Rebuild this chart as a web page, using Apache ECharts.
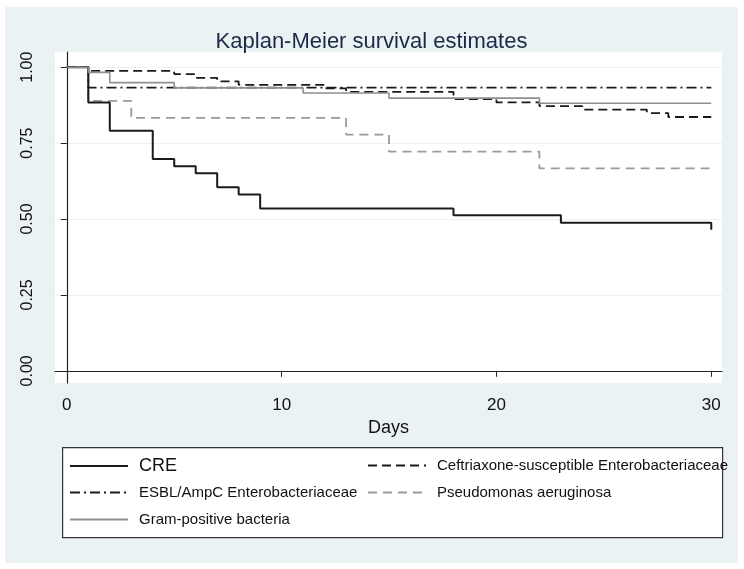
<!DOCTYPE html>
<html>
<head>
<meta charset="utf-8">
<script src="https://cdn.jsdelivr.net/npm/echarts@6/dist/echarts.min.js"></script>
<style>
    body { margin: 0; background: #ffffff; }
    #chart { position: absolute; left: 5px; top: 7px; width: 733px; height: 556px; }
</style>
</head>
<body>
<div id="chart"></div>
<script>
// Kaplan-Meier step data: [day, survival]
const creTimes = [0, 1, 2, 4, 5, 6, 7, 8, 9, 18, 23, 30];
const creSurv = [1, 0.884, 0.791, 0.698, 0.674, 0.651, 0.605, 0.581, 0.535, 0.512, 0.488, 0.465];

const ceftTimes = [0, 1, 5, 6, 7, 8, 12, 13, 18, 20, 22, 24, 27, 28, 30];
const ceftSurv = [1, 0.988, 0.977, 0.965, 0.953, 0.942, 0.93, 0.919, 0.895, 0.884, 0.872, 0.86, 0.849, 0.836, 0.836];

const esblTimes = [0, 1, 30];
const esblSurv = [1, 0.933, 0.933];

const pseuTimes = [0, 1, 3, 13, 15, 22, 30];
const pseuSurv = [1, 0.889, 0.833, 0.778, 0.722, 0.667, 0.667];

const gramTimes = [0, 1, 2, 5, 11, 15, 22, 30];
const gramSurv = [1, 0.983, 0.949, 0.932, 0.915, 0.898, 0.881, 0.881];

const xTicks = [0, 10, 20, 30];
const yTicks = [0, 0.25, 0.5, 0.75, 1];

const names = [
    "CRE",
    "Ceftriaxone-susceptible Enterobacteriaceae",
    "ESBL/AmpC Enterobacteriaceae",
    "Pseudomonas aeruginosa",
    "Gram-positive bacteria",
];

const FONT = "'Liberation Sans', Arial, sans-serif";
const BG = "#eaf2f3";

const zip = (t, s) => t.map((x, i) => [x, s[i]]);

const kmSeries = (name, t, s, color, width, type) => ({
    name: name,
    type: "line",
    step: "end",
    symbol: "none",
    data: zip(t, s),
    lineStyle: { color: color, width: width, type: type },
    itemStyle: { color: color },
    emphasis: { disabled: true },
});

const legendAt = (name, left, top, size) => ({
    data: [name],
    left: left,
    top: top,
    padding: 0,
    itemWidth: 58,
    itemHeight: 12,
    selectedMode: false,
    itemStyle: { opacity: 0 },
    textStyle: {
        fontFamily: FONT,
        fontSize: size,
        color: "#111111",
        padding: [0, 0, 0, 6],
    },
});

const chart = echarts.init(document.getElementById("chart"));
chart.setOption({
    animation: false,
    backgroundColor: BG,
    title: {
        text: "Kaplan-Meier survival estimates",
        left: "center",
        top: 19,
        textStyle: {
            fontFamily: FONT,
            fontSize: 22,
            fontWeight: "normal",
            color: "#1c2a48",
        },
    },
    grid: {
        left: 50,
        right: 16,
        top: 45,
        bottom: 180,
        show: true,
        backgroundColor: "#ffffff",
        borderWidth: 0,
    },
    xAxis: {
        type: "value",
        min: -0.55,
        max: 30.5,
        name: "Days",
        nameLocation: "middle",
        nameGap: 32,
        nameTextStyle: { fontFamily: FONT, fontSize: 18, color: "#111111" },
        axisLine: { lineStyle: { color: "#222222", width: 1.2 } },
        axisTick: { customValues: xTicks, length: 6, lineStyle: { color: "#222222" } },
        axisLabel: {
            customValues: xTicks,
            margin: 14,
            fontFamily: FONT,
            fontSize: 17,
            color: "#111111",
        },
        splitLine: { show: false },
    },
    yAxis: {
        type: "value",
        min: -0.04,
        max: 1.05,
        axisLine: { show: true, lineStyle: { color: "#222222", width: 1.2 } },
        axisTick: { customValues: yTicks, length: 6, lineStyle: { color: "#222222" } },
        axisLabel: {
            customValues: yTicks,
            rotate: 90,
            margin: 19,
            fontFamily: FONT,
            fontSize: 16,
            color: "#111111",
            formatter: (v) => v.toFixed(2),
        },
        splitLine: { show: true, lineStyle: { color: BG, width: 1.2 } },
    },
    legend: [
        legendAt(names[0], 64, 450, 18),
        legendAt(names[1], 362, 451, 15),
        legendAt(names[2], 64, 478, 15),
        legendAt(names[3], 362, 478, 15),
        legendAt(names[4], 64, 505, 15),
    ],
    graphic: [
        {
            type: "rect",
            left: 57,
            top: 440,
            shape: { width: 660, height: 90 },
            style: { fill: "#ffffff", stroke: "#333333", lineWidth: 1.2 },
            z: -1,
        },
    ],
    series: [
        kmSeries(names[3], pseuTimes, pseuSurv, "#9a9a9a", 1.8, [9, 6]),
        kmSeries(names[2], esblTimes, esblSurv, "#1a1a1a", 1.8, [10, 4, 2, 4]),
        kmSeries(names[1], ceftTimes, ceftSurv, "#1a1a1a", 1.8, [9, 5]),
        kmSeries(names[0], creTimes, creSurv, "#1a1a1a", 2, "solid"),
        kmSeries(names[4], gramTimes, gramSurv, "#8f8f8f", 1.6, "solid"),
    ],
});
</script>
</body>
</html>
